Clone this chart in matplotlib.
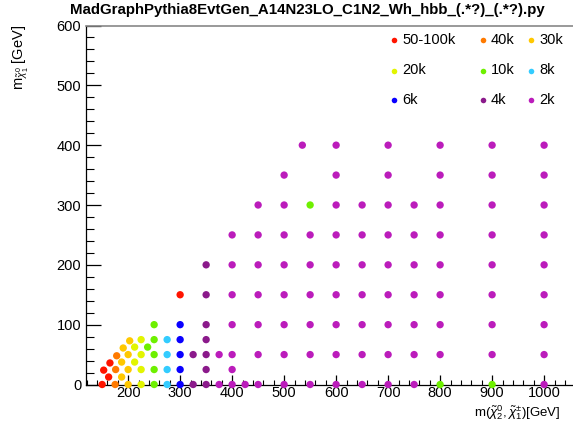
import matplotlib
matplotlib.use("Agg")
import matplotlib.pyplot as plt
from matplotlib.ticker import MultipleLocator

plt.rcParams['font.family'] = ['Liberation Sans', 'DejaVu Sans']
plt.rcParams['mathtext.fontset'] = 'custom'
plt.rcParams['mathtext.rm'] = 'Liberation Sans'
plt.rcParams['mathtext.it'] = 'Liberation Sans:italic'

# категорії (кількість подій) та кольори
labels = ['50-100k', '40k', '30k', '20k', '10k', '8k', '6k', '4k', '2k']
colors = ['#ff1400', '#ff7a00', '#ffc800', '#e2f500', '#6ef000', '#33ccff', '#0a00ff', '#8b1a8b', '#bb1cbb']

# m(chi2,chi1+-) та m(chi1) для кожної категорії, GeV
x_100k = [150, 162.5, 153, 165, 300]
y_100k = [0, 12.5, 24, 36, 150]
x_40k = [175, 176, 178]
y_40k = [0, 25, 48]
x_30k = [200, 200, 200, 187.5, 187.5, 190.5, 203]
y_30k = [0, 25, 50, 12.5, 37.5, 61, 73]
x_20k = [225, 225, 225, 225, 212.5, 212.5]
y_20k = [0, 25, 50, 75, 37.5, 62.5]
x_10k = [250, 250, 250, 250, 250, 237.5, 550, 800, 900]
y_10k = [0, 25, 50, 75, 100, 62.5, 300, 0, 0]
x_8k = [275, 275, 275, 275]
y_8k = [0, 25, 50, 75]
x_6k = [300, 300, 300, 300, 300]
y_6k = [0, 25, 50, 75, 100]
x_4k = [325, 350, 325, 350, 350, 350, 350, 350, 350]
y_4k = [0, 0, 50, 25, 50, 75, 100, 150, 200]

# 2k: рядки сітки m(chi1) -> значення m(chi2,chi1+-)
row_full = [400, 450, 500, 550, 600, 650, 700, 750, 800, 900, 1000]
rows_2k = {
    0: [375, 400, 425, 450, 500, 550, 600, 650, 700, 750, 1000],
    25: [400],
    50: [375] + row_full,
    100: row_full,
    150: row_full,
    200: row_full,
    250: row_full,
    300: [450, 500, 600, 650, 700, 750, 800, 900, 1000],
    350: [500, 600, 700, 800, 900, 1000],
    400: [535, 600, 700, 800, 900, 1000],
}
x_2k = [x for y, xs in rows_2k.items() for x in xs]
y_2k = [y for y, xs in rows_2k.items() for x in xs]

series = [(x_100k, y_100k), (x_40k, y_40k), (x_30k, y_30k), (x_20k, y_20k), (x_10k, y_10k),
          (x_8k, y_8k), (x_6k, y_6k), (x_4k, y_4k), (x_2k, y_2k)]

W, H = 573, 421
fig = plt.figure(figsize=(W / 100, H / 100), dpi=100)
ax = fig.add_axes([85.5 / W, (H - 384.5) / H, 500.2 / W, 359 / H])

for (xs, ys), c in zip(series, colors):
    ax.scatter(xs, ys, s=28, color=c, edgecolors='none', zorder=3, clip_on=False)

ax.set_xlim(118, 1080)
ax.set_ylim(0, 600)
ax.xaxis.set_major_locator(MultipleLocator(100))
ax.xaxis.set_minor_locator(MultipleLocator(20))
ax.yaxis.set_major_locator(MultipleLocator(100))
ax.yaxis.set_minor_locator(MultipleLocator(20))
ax.tick_params(axis='x', which='major', direction='in', length=7.5, width=0.9, labelsize=10.5, pad=1)
ax.tick_params(axis='x', which='minor', direction='in', length=3.7, width=0.8)
ax.tick_params(axis='y', which='major', direction='in', length=11, width=0.9, labelsize=10.5, pad=3)
ax.tick_params(axis='y', which='minor', direction='in', length=5.5, width=0.8)
ax.xaxis.set_ticks_position('bottom')
ax.yaxis.set_ticks_position('left')
ax.spines['top'].set_color('#888888')
ax.spines['top'].set_linewidth(1.2)
ax.spines['right'].set_visible(False)
ax.spines['left'].set_linewidth(0.9)
ax.spines['bottom'].set_linewidth(0.9)

fig.text(307 / W, 1 - 10 / H, 'MadGraphPythia8EvtGen_A14N23LO_C1N2_Wh_hbb_(.*?)_(.*?).py',
         ha='center', va='center', fontsize=10.8, fontweight='bold')
fig.text(21 / W, 1 - 25 / H, r'$\mathrm{m}_{\tilde{\chi}^{0}_{1}}$ [GeV]',
         rotation=90, ha='center', va='top', fontsize=10.5)
fig.text(474 / W, 1 - 422 / H, r'$\mathrm{m}(\tilde{\chi}^{0}_{2},\tilde{\chi}^{\pm}_{1})$[GeV]',
         ha='left', va='bottom', fontsize=9.5)

# легенда 3x3
col_x = [394, 483, 531]
row_y = [40, 70.5, 100]
for i, (lab, c) in enumerate(zip(labels, colors)):
    cx = col_x[i % 3]
    cy = row_y[i // 3]
    fig.lines.append(plt.Line2D([cx / W], [1 - cy / H], marker='o', markersize=4,
                                color=c, markeredgewidth=0, transform=fig.transFigure))
    fig.text((cx + 8) / W, 1 - cy / H, lab, ha='left', va='center', fontsize=10.5)

fig.savefig('out.png', dpi=100)
